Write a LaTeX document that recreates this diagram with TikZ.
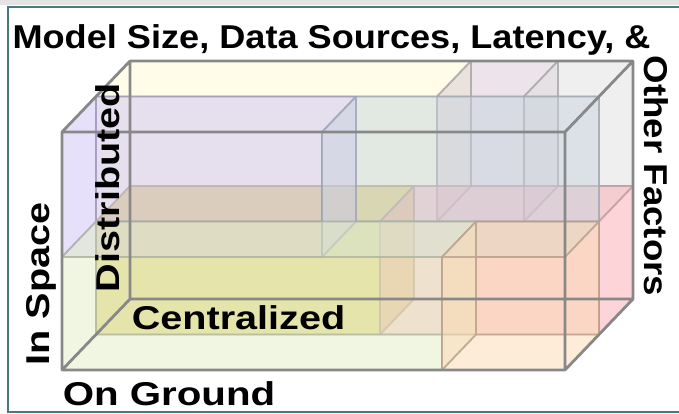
\documentclass[tikz,border=0pt]{standalone}
\usepackage{fontspec}
\setmainfont{Liberation Sans}
\definecolor{frameteal}{HTML}{4A7A80}
\definecolor{cubegray}{HTML}{888888}
\definecolor{paleyellow}{HTML}{FFFBD1}
\definecolor{mauvegray}{HTML}{D9C9D5}
\definecolor{lightgray}{HTML}{DFDFDF}
\definecolor{gold}{HTML}{D6B828}
\definecolor{rose}{HTML}{FBABB1}
\definecolor{lavender}{HTML}{CDC1F5}
\definecolor{steel}{HTML}{C7D3DE}
\definecolor{sage}{HTML}{E1EDC5}
\definecolor{peach}{HTML}{FBD9B1}
\definecolor{lavenderedge}{HTML}{948AB4}
\definecolor{steeledge}{HTML}{98A2B0}
\definecolor{peachedge}{HTML}{B0927E}
\definecolor{sageedge}{HTML}{A8B098}
\definecolor{goldedge}{HTML}{A8A068}
\definecolor{roseedge}{HTML}{B8989C}
\definecolor{neutraledge}{HTML}{A0A0A0}
% cuboid: x0 x1 y0 y1 z0 z1 fill edge  (x,y in front-face pixels, z in depth 0..1)
\newcommand{\drawcuboid}[8]{%
  \fill[fill=#7, fill opacity=0.5] (#1,#4,#5) -- (#1,#3,#5) -- (#1,#3,#6) -- (#2,#3,#6) -- (#2,#4,#6) -- (#2,#4,#5) -- cycle;
  \draw[boxedge, draw=#8] (#1,#3,#5) -- (#2,#3,#5) -- (#2,#4,#5) -- (#1,#4,#5) -- cycle
     (#1,#3,#6) -- (#2,#3,#6) -- (#2,#4,#6) -- (#1,#4,#6) -- cycle
     (#1,#3,#5) -- (#1,#3,#6) (#2,#3,#5) -- (#2,#3,#6)
     (#2,#4,#5) -- (#2,#4,#6) (#1,#4,#5) -- (#1,#4,#6);
}
\begin{document}
\begin{tikzpicture}[x={(1pt,0pt)}, y={(0pt,-1pt)}, z={(68pt,71pt)},
  boxedge/.style={line width=1.8pt, draw opacity=0.6, line join=round},
  cubeedge/.style={line width=2.8pt, draw=cubegray, line join=round},
  lbl/.style={font=\fontsize{33}{36}\selectfont\bfseries, inner sep=0pt}]
\useasboundingbox (0,0) rectangle (679,413);
\clip (0,0) rectangle (679,413);

% page frame
\fill[gray!22] (0,0) rectangle (679,5);
\draw[frameteal, line width=2.4pt] (8,7) rectangle (700,412);

% back half (depth 0.5 .. 1)
\drawcuboid{62}{403}{132}{257}{0.5}{1}{paleyellow}{neutraledge}
\drawcuboid{403}{490}{132}{257}{0.5}{1}{mauvegray}{neutraledge}
\drawcuboid{490}{565}{132}{257}{0.5}{1}{lightgray}{neutraledge}
\drawcuboid{62}{346}{257}{370}{0.5}{1}{gold}{goldedge}
\drawcuboid{346}{565}{257}{370}{0.5}{1}{rose}{roseedge}

% front half (depth 0 .. 0.5)
\drawcuboid{62}{322}{132}{257}{0}{0.5}{lavender}{lavenderedge}
\drawcuboid{322}{565}{132}{257}{0}{0.5}{steel}{steeledge}
\drawcuboid{62}{442}{257}{370}{0}{0.5}{sage}{sageedge}
\drawcuboid{442}{565}{257}{370}{0}{0.5}{peach}{peachedge}

% enclosing cube
\draw[cubeedge] (62,132,0) -- (565,132,0) -- (565,370,0) -- (62,370,0) -- cycle
  (62,132,1) -- (565,132,1) -- (565,370,1) -- (62,370,1) -- cycle
  (62,132,0) -- (62,132,1) (565,132,0) -- (565,132,1)
  (565,370,0) -- (565,370,1) (62,370,0) -- (62,370,1);

% labels
\node[lbl, anchor=base] (title) at (331.5,48) {\scalebox{1.095}[1]{Model Size, Data Sources, Latency, \&}};
\node[lbl, anchor=base, rotate=-90] (other) at (644,176) {\scalebox{1.11}[1]{Other Factors}};
\node[lbl, anchor=base, rotate=90] (space) at (49,284) {\scalebox{1.2}[1]{In Space}};
\node[lbl, anchor=base, rotate=90] (dist) at (119,187.5) {\scalebox{1.2}[1]{Distributed}};
\node[lbl, anchor=base] (central) at (238.5,329) {\scalebox{1.2}[1]{Centralized}};
\node[lbl, anchor=base] (ground) at (169,405) {\scalebox{1.22}[1]{On Ground}};
\end{tikzpicture}
\end{document}
